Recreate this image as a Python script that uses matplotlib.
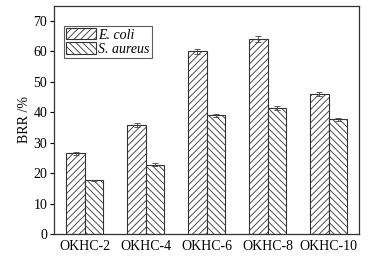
import numpy as np
import matplotlib
matplotlib.use("Agg")
import matplotlib.pyplot as plt

plt.rcParams['font.family'] = ['Liberation Serif', 'DejaVu Serif']
plt.rcParams['hatch.linewidth'] = 0.6
plt.rcParams['hatch.color'] = '#555555'

samples = ['OKHC-2', 'OKHC-4', 'OKHC-6', 'OKHC-8', 'OKHC-10']
ecoli = [26.5, 35.9, 60.0, 64.0, 45.9]
ecoli_err = [0.6, 0.6, 0.9, 1.0, 0.7]
saureus = [17.6, 22.8, 39.0, 41.5, 37.7]
saureus_err = [0.3, 0.4, 0.6, 0.6, 0.5]

fig, ax = plt.subplots(figsize=(3.74, 2.63), dpi=100)
fig.subplots_adjust(left=0.145, right=0.96, top=0.978, bottom=0.11)

x = np.arange(len(samples))
w = 0.3
err_kw = dict(ecolor='#444444', elinewidth=0.6, capsize=2, capthick=0.6)
ax.bar(x - w / 2, ecoli, w, yerr=ecoli_err, color='white', edgecolor='#333333',
       linewidth=0.8, hatch='/////', label='E. coli', error_kw=err_kw)
ax.bar(x + w / 2, saureus, w, yerr=saureus_err, color='white', edgecolor='#333333',
       linewidth=0.8, hatch='\\\\\\\\\\', label='S. aureus', error_kw=err_kw)

ax.set_xlim(-0.5, 4.5)
ax.set_ylim(0, 75)
ax.set_yticks(range(0, 71, 10))
ax.set_xticks(x)
ax.set_xticklabels(samples)
ax.tick_params(axis='x', length=0, labelsize=10, pad=4)
ax.tick_params(axis='y', direction='out', length=3, width=0.8, labelsize=10, pad=2)
ax.set_ylabel('BRR /%', fontsize=10, labelpad=2)
for s in ax.spines.values():
    s.set_linewidth(0.9)
    s.set_color('#333333')

leg = ax.legend(loc='upper left', bbox_to_anchor=(0.033, 0.91),
                prop={'style': 'italic', 'size': 10}, frameon=True, fancybox=False,
                edgecolor='#333333', handlelength=2.1, handleheight=0.85,
                borderpad=0.15, labelspacing=0.05, handletextpad=0.2,
                borderaxespad=0)
leg.get_frame().set_linewidth(0.8)

fig.savefig('out.png', dpi=100)
